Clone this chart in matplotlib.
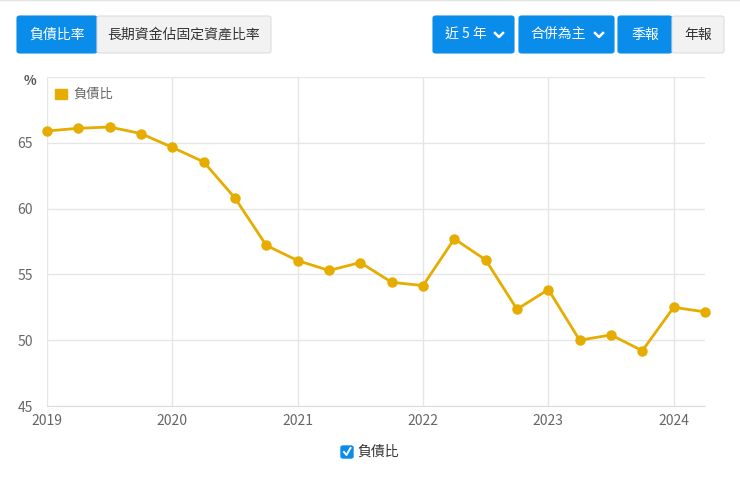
import matplotlib
matplotlib.use('Agg')
import matplotlib.pyplot as plt
from matplotlib.patches import FancyBboxPatch, Rectangle
from matplotlib.lines import Line2D

plt.rcParams['font.family'] = ['Noto Sans CJK TC', 'DejaVu Sans']

# quarterly debt ratio (%), 2019Q1 .. 2024Q2
quarters = [2019 + i * 0.25 for i in range(22)]
debt_ratio = [65.9, 66.1, 66.2, 65.7, 64.65, 63.55, 60.8, 57.2, 56.05, 55.3, 55.9,
              54.4, 54.15, 57.7, 56.1, 52.35, 53.85, 50.0, 50.4, 49.2, 52.5, 52.15]
year_ticks = [2019, 2020, 2021, 2022, 2023, 2024]
y_ticks = [45, 50, 55, 60, 65, 70]
series_name = '負債比'

GOLD = '#E6AD00'
BLUE = '#0A8CEB'
GRID = '#E6E6E6'
TXT = '#666666'

W, H = 740, 480
fig = plt.figure(figsize=(7.4, 4.8), dpi=100)
ax = fig.add_axes([47 / W, 1 - 406 / H, (705 - 47) / W, (406 - 77) / H])

ax.plot(quarters, debt_ratio, color=GOLD, lw=2.0, marker='o', ms=6.5, zorder=3, clip_on=False)
ax.set_xlim(2019, 2024.25)
ax.set_ylim(45, 70)
ax.set_xticks(year_ticks)
ax.set_xticklabels([str(y) for y in year_ticks])
ax.set_yticks(y_ticks)
ax.set_yticklabels([str(v) if v != 70 else '' for v in y_ticks])
ax.grid(True, color=GRID, lw=1)
ax.set_axisbelow(True)
for s in ['top', 'right', 'left']:
    ax.spines[s].set_visible(False)
ax.spines['bottom'].set_color('#DDDDDD')
ax.tick_params(length=0, labelsize=10, colors=TXT)
ax.tick_params(axis='x', pad=6)
ax.tick_params(axis='y', pad=10)

# legend inside
ax.add_patch(Rectangle((55 / W, 1 - 99 / H), 12 / W, 10 / H, transform=fig.transFigure,
                       color=GOLD, clip_on=False))
fig.text(73 / W, 1 - 94 / H, series_name, fontsize=9.5, color=TXT, va='center')
fig.text(24 / W, 1 - 81 / H, '%', fontsize=9.5, color='#555555', va='center', weight='bold')

# faint top border
fig.lines.append(Line2D([0, 1], [0.999, 0.999], transform=fig.transFigure, color='#E4E4E4', lw=1))


def button(x0, x1, label, active, chevron=False):
    y0, y1 = 16, 53
    fc = BLUE if active else '#F2F2F2'
    ec = BLUE if active else '#DDDDDD'
    fig.patches.append(FancyBboxPatch((x0 / W, 1 - y1 / H), (x1 - x0) / W, (y1 - y0) / H,
                                      boxstyle='round,pad=0,rounding_size=0.004',
                                      transform=fig.transFigure, fc=fc, ec=ec, lw=0.8))
    col = 'white' if active else '#333333'
    cx = (x0 + x1) / 2 - (8 if chevron else 0)
    fig.text(cx / W, 1 - 35 / H, label, fontsize=10, color=col, ha='center', va='center')
    if chevron:
        chx = x1 - 15
        fig.lines.append(Line2D([(chx - 4) / W, chx / W, (chx + 4) / W],
                                [1 - 33 / H, 1 - 37 / H, 1 - 33 / H],
                                transform=fig.transFigure, color='white', lw=1.8))


button(17, 97, '負債比率', True)
button(97, 271, '長期資金佔固定資產比率', False)
button(433, 514, '近 5 年', True, chevron=True)
button(519, 614, '合併為主', True, chevron=True)
button(618, 672, '季報', True)
button(672, 724, '年報', False)

# bottom checkbox legend
fig.patches.append(FancyBboxPatch((341 / W, 1 - 458 / H), 12 / W, 12 / H,
                                  boxstyle='round,pad=0,rounding_size=0.003',
                                  transform=fig.transFigure, fc=BLUE, ec=BLUE))
fig.lines.append(Line2D([344 / W, 346.5 / W, 350.5 / W], [1 - 452 / H, 1 - 455 / H, 1 - 448 / H],
                        transform=fig.transFigure, color='white', lw=1.4))
fig.text(357 / W, 1 - 452 / H, series_name, fontsize=10, color='#333333', va='center')

fig.savefig('out.png', dpi=100)
